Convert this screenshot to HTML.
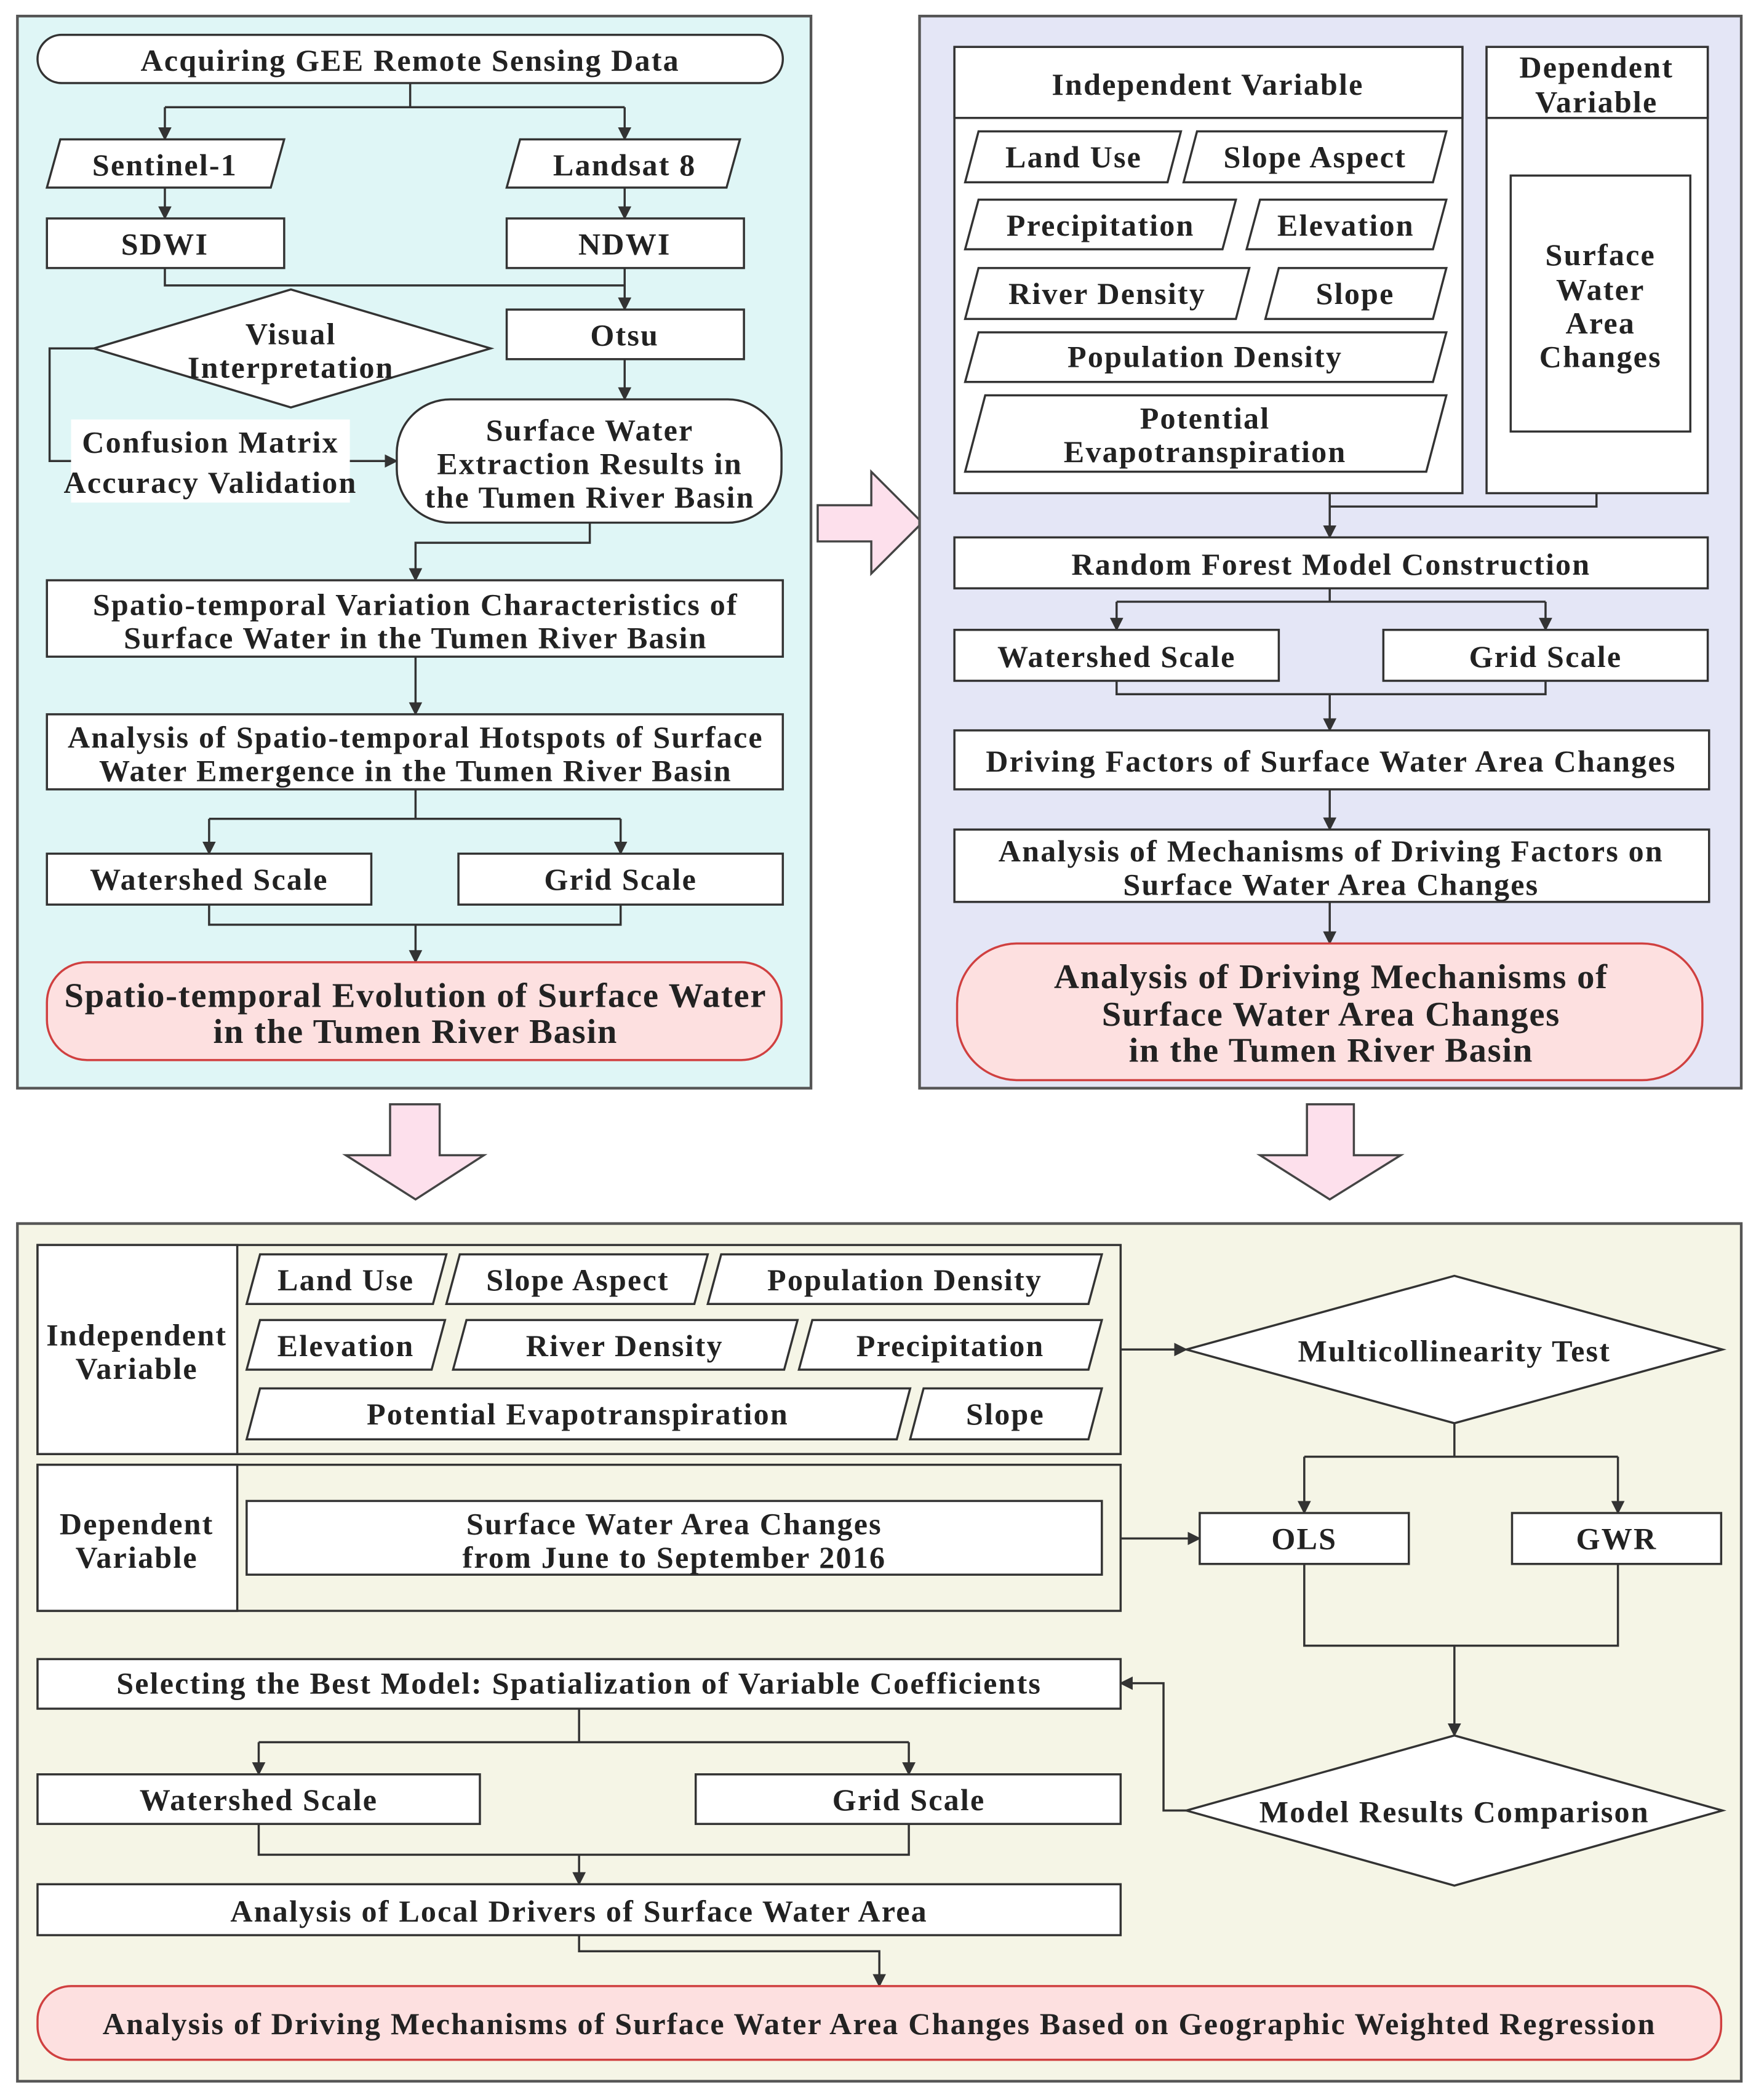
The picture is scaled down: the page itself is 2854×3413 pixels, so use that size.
<!DOCTYPE html>
<html><head><meta charset="utf-8">
<style>
html,body{margin:0;padding:0;background:#fff;}
svg{display:block;}
text{font-family:"Liberation Serif",serif;font-weight:bold;fill:#222;text-anchor:middle;dominant-baseline:central;font-size:23px;letter-spacing:1px;}
.big{font-size:26px;letter-spacing:0.8px;}
.s{stroke:#333;stroke-width:1.6;fill:#fff;}
.l{stroke:#333;stroke-width:1.6;fill:none;}
</style></head><body>
<svg width="2854" height="3413" viewBox="0 0 1310 1567" preserveAspectRatio="none" xmlns="http://www.w3.org/2000/svg">
<defs>
<marker id="a" markerWidth="10" markerHeight="10" refX="9" refY="5" orient="auto" markerUnits="userSpaceOnUse"><path d="M0,0 L10,5 L0,10 z" fill="#333"/></marker>
</defs>
<rect width="1310" height="1567" fill="#fff"/>

<!-- Panel 1 -->
<rect x="13" y="12" width="592" height="800" fill="#dff6f6" stroke="#555" stroke-width="2"/>
<rect x="28" y="26" width="556" height="36" rx="18" class="s"/>
<text x="306" y="45">Acquiring GEE Remote Sensing Data</text>
<path class="l" d="M306,62 V80 M123,80 H466"/>
<path class="l" d="M123,80 V104" marker-end="url(#a)"/>
<path class="l" d="M466,80 V104" marker-end="url(#a)"/>
<polygon class="s" points="45,104 212,104 202,140 35,140"/>
<text x="123" y="123">Sentinel-1</text>
<polygon class="s" points="388,104 552,104 542,140 378,140"/>
<text x="466" y="123">Landsat 8</text>
<path class="l" d="M123,140 V163" marker-end="url(#a)"/>
<path class="l" d="M466,140 V163" marker-end="url(#a)"/>
<rect x="35" y="163" width="177" height="37" class="s"/><text x="123" y="182">SDWI</text>
<rect x="378" y="163" width="177" height="37" class="s"/><text x="466" y="182">NDWI</text>
<path class="l" d="M123,200 V213 H466"/>
<path class="l" d="M466,200 V231" marker-end="url(#a)"/>
<rect x="378" y="231" width="177" height="37" class="s"/><text x="466" y="250">Otsu</text>
<polygon class="s" points="70,260 217,216 366,260 217,304"/>
<text x="217" y="249">Visual</text><text x="217" y="274">Interpretation</text>
<path class="l" d="M70,260 H37 V344 H53"/>
<rect x="53" y="313" width="208" height="62" fill="#fff"/>
<text x="157" y="330">Confusion Matrix</text><text x="157" y="360">Accuracy Validation</text>
<path class="l" d="M261,344 H296" marker-end="url(#a)"/>
<path class="l" d="M466,268 V298" marker-end="url(#a)"/>
<rect x="296" y="298" width="287" height="92" rx="40" class="s"/>
<text x="440" y="321">Surface Water</text><text x="440" y="346">Extraction Results in</text><text x="440" y="371">the Tumen River Basin</text>
<path class="l" d="M440,390 V405 H310 V433" marker-end="url(#a)"/>
<rect x="35" y="433" width="549" height="57" class="s"/>
<text x="310" y="451">Spatio-temporal Variation Characteristics of</text><text x="310" y="476">Surface Water in the Tumen River Basin</text>
<path class="l" d="M310,490 V533" marker-end="url(#a)"/>
<rect x="35" y="533" width="549" height="56" class="s"/>
<text x="310" y="550">Analysis of Spatio-temporal Hotspots of Surface</text><text x="310" y="575">Water Emergence in the Tumen River Basin</text>
<path class="l" d="M310,589 V611 M156,611 H463"/>
<path class="l" d="M156,611 V637" marker-end="url(#a)"/>
<path class="l" d="M463,611 V637" marker-end="url(#a)"/>
<rect x="35" y="637" width="242" height="38" class="s"/><text x="156" y="656">Watershed Scale</text>
<rect x="342" y="637" width="242" height="38" class="s"/><text x="463" y="656">Grid Scale</text>
<path class="l" d="M156,675 V690 H463 V675 M310,690 V718" marker-end="url(#a)"/>
<rect x="35" y="718" width="548" height="73" rx="30" fill="#fde0e0" stroke="#d04040" stroke-width="1.6"/>
<text x="310" y="743" class="big">Spatio-temporal Evolution of Surface Water</text><text x="310" y="770" class="big">in the Tumen River Basin</text>

<!-- right arrow -->
<polygon points="610,377 650,377 650,352 688,390 650,428 650,404 610,404" fill="#fde0ec" stroke="#444" stroke-width="1.6"/>

<!-- Panel 2 -->
<rect x="686" y="12" width="613" height="800" fill="#e4e6f6" stroke="#555" stroke-width="2"/>
<rect x="712" y="35" width="379" height="333" class="s"/>
<rect x="712" y="35" width="379" height="53" class="s"/>
<text x="901" y="63">Independent Variable</text>
<rect x="1109" y="35" width="165" height="333" class="s"/>
<rect x="1109" y="35" width="165" height="53" class="s"/>
<text x="1191" y="50">Dependent</text><text x="1191" y="76">Variable</text>
<rect x="1127" y="131" width="134" height="191" class="s"/>
<text x="1194" y="190">Surface</text><text x="1194" y="216">Water</text><text x="1194" y="241">Area</text><text x="1194" y="266">Changes</text>
<polygon class="s" points="730,98 881,98 871,136 720,136"/><text x="801" y="117">Land Use</text>
<polygon class="s" points="893,98 1079,98 1069,136 883,136"/><text x="981" y="117">Slope Aspect</text>
<polygon class="s" points="730,149 922,149 912,186 720,186"/><text x="821" y="168">Precipitation</text>
<polygon class="s" points="940,149 1079,149 1069,186 930,186"/><text x="1004" y="168">Elevation</text>
<polygon class="s" points="730,200 932,200 922,238 720,238"/><text x="826" y="219">River Density</text>
<polygon class="s" points="954,200 1079,200 1069,238 944,238"/><text x="1011" y="219">Slope</text>
<polygon class="s" points="730,248 1079,248 1069,285 720,285"/><text x="899" y="266">Population Density</text>
<polygon class="s" points="735,295 1079,295 1064,352 720,352"/><text x="899" y="312">Potential</text><text x="899" y="337">Evapotranspiration</text>
<path class="l" d="M1191,368 V378 H992"/>
<path class="l" d="M992,368 V401" marker-end="url(#a)"/>
<rect x="712" y="401" width="562" height="38" class="s"/><text x="993" y="421">Random Forest Model Construction</text>
<path class="l" d="M992,439 V449 M833,449 H1153"/>
<path class="l" d="M833,449 V470" marker-end="url(#a)"/>
<path class="l" d="M1153,449 V470" marker-end="url(#a)"/>
<rect x="712" y="470" width="242" height="38" class="s"/><text x="833" y="490">Watershed Scale</text>
<rect x="1032" y="470" width="242" height="38" class="s"/><text x="1153" y="490">Grid Scale</text>
<path class="l" d="M833,508 V518 H1153 V508 M992,518 V545" marker-end="url(#a)"/>
<rect x="712" y="545" width="563" height="44" class="s"/><text x="993" y="568">Driving Factors of Surface Water Area Changes</text>
<path class="l" d="M992,589 V619" marker-end="url(#a)"/>
<rect x="712" y="619" width="563" height="54" class="s"/>
<text x="993" y="635">Analysis of Mechanisms of Driving Factors on</text><text x="993" y="660">Surface Water Area Changes</text>
<path class="l" d="M992,673 V704" marker-end="url(#a)"/>
<rect x="714" y="704" width="556" height="102" rx="45" fill="#fde0e0" stroke="#d04040" stroke-width="1.6"/>
<text x="993" y="729" class="big">Analysis of Driving Mechanisms of</text><text x="993" y="757" class="big">Surface Water Area Changes</text><text x="993" y="784" class="big">in the Tumen River Basin</text>

<!-- down arrows -->
<polygon points="291,824 328,824 328,862 361,862 310,895 258,862 291,862" fill="#fde0ec" stroke="#444" stroke-width="1.6"/>
<polygon points="975,824 1010,824 1010,862 1045,862 992,895 940,862 975,862" fill="#fde0ec" stroke="#444" stroke-width="1.6"/>

<!-- Panel 3 -->
<rect x="13" y="913" width="1286" height="640" fill="#f5f5e6" stroke="#555" stroke-width="2"/>
<rect x="28" y="929" width="808" height="156" fill="none" stroke="#333" stroke-width="1.6"/>
<rect x="28" y="929" width="149" height="156" class="s"/>
<text x="102" y="996">Independent</text><text x="102" y="1021">Variable</text>
<polygon class="s" points="194,936 333,936 323,973 184,973"/><text x="258" y="955">Land Use</text>
<polygon class="s" points="343,936 528,936 518,973 333,973"/><text x="431" y="955">Slope Aspect</text>
<polygon class="s" points="538,936 822,936 812,973 528,973"/><text x="675" y="955">Population Density</text>
<polygon class="s" points="194,985 332,985 322,1022 184,1022"/><text x="258" y="1004">Elevation</text>
<polygon class="s" points="348,985 595,985 585,1022 338,1022"/><text x="466" y="1004">River Density</text>
<polygon class="s" points="606,985 822,985 812,1022 596,1022"/><text x="709" y="1004">Precipitation</text>
<polygon class="s" points="194,1036 679,1036 669,1074 184,1074"/><text x="431" y="1055">Potential Evapotranspiration</text>
<polygon class="s" points="689,1036 822,1036 812,1074 679,1074"/><text x="750" y="1055">Slope</text>
<rect x="28" y="1093" width="808" height="109" fill="none" stroke="#333" stroke-width="1.6"/>
<rect x="28" y="1093" width="149" height="109" class="s"/>
<text x="102" y="1137">Dependent</text><text x="102" y="1162">Variable</text>
<rect x="184" y="1120" width="638" height="55" class="s"/>
<text x="503" y="1137">Surface Water Area Changes</text><text x="503" y="1162">from June to September 2016</text>
<path class="l" d="M836,1007 H885" marker-end="url(#a)"/>
<polygon class="s" points="885,1007 1085,952 1285,1007 1085,1062"/>
<text x="1085" y="1008">Multicollinearity Test</text>
<path class="l" d="M836,1148 H895" marker-end="url(#a)"/>
<path class="l" d="M1085,1062 V1087 M973,1087 H1207"/>
<path class="l" d="M973,1087 V1129" marker-end="url(#a)"/>
<path class="l" d="M1207,1087 V1129" marker-end="url(#a)"/>
<rect x="895" y="1129" width="156" height="38" class="s"/><text x="973" y="1148">OLS</text>
<rect x="1128" y="1129" width="156" height="38" class="s"/><text x="1206" y="1148">GWR</text>
<path class="l" d="M973,1167 V1228 H1207 V1167 M1085,1228 V1295" marker-end="url(#a)"/>
<polygon class="s" points="885,1351 1085,1295 1285,1351 1085,1407"/>
<text x="1085" y="1352">Model Results Comparison</text>
<path class="l" d="M885,1351 H868 V1256 H836" marker-end="url(#a)"/>
<rect x="28" y="1238" width="808" height="37" class="s"/><text x="432" y="1256">Selecting the Best Model: Spatialization of Variable Coefficients</text>
<path class="l" d="M432,1275 V1300 M193,1300 H678"/>
<path class="l" d="M193,1300 V1324" marker-end="url(#a)"/>
<path class="l" d="M678,1300 V1324" marker-end="url(#a)"/>
<rect x="28" y="1324" width="330" height="37" class="s"/><text x="193" y="1343">Watershed Scale</text>
<rect x="519" y="1324" width="317" height="37" class="s"/><text x="678" y="1343">Grid Scale</text>
<path class="l" d="M193,1361 V1384 H678 V1361 M432,1384 V1406" marker-end="url(#a)"/>
<rect x="28" y="1406" width="808" height="38" class="s"/><text x="432" y="1426">Analysis of Local Drivers of Surface Water Area</text>
<path class="l" d="M432,1444 V1456 H656 V1482" marker-end="url(#a)"/>
<rect x="28" y="1482" width="1256" height="55" rx="25" fill="#fde0e0" stroke="#d04040" stroke-width="1.6"/>
<text x="656" y="1510">Analysis of Driving Mechanisms of Surface Water Area Changes Based on Geographic Weighted Regression</text>
</svg>
</body></html>
